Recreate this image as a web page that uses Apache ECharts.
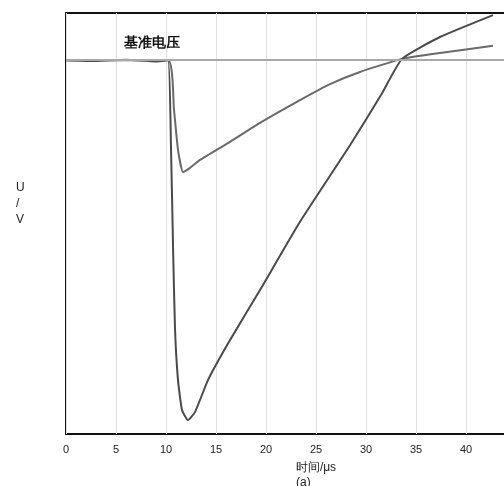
<!DOCTYPE html>
<html>
<head>
<meta charset="utf-8">
<script src="https://cdn.jsdelivr.net/npm/echarts@6/dist/echarts.min.js"></script>
<style>
html,body{margin:0;padding:0;background:#fff;}
#chart{width:504px;height:486px;}
</style>
</head>
<body>
<div id="chart"></div>
<script>
// 时间 (μs) / 电压 (相对值)
var xTicks = [0, 5, 10, 15, 20, 25, 30, 35, 40, 45, 50];
var baseLevel = 88.8;
var refLabel = '基准电压';

// 深曲线
var deepT = [0, 3, 6, 9, 10.2, 10.5, 10.7, 10.9, 11.2, 11.6, 12.2, 12.9, 14.2, 16.4, 19.4, 23.4, 28.4, 31.5, 33.6, 37.4, 42.7];
var deepV = [88.8, 88.6, 88.9, 88.5, 88.8, 68.0, 45.0, 25.0, 12.8, 5.7, 3.3, 5.2, 12.8, 22.3, 34.2, 50.4, 68.6, 80.5, 89.1, 94.3, 99.5];

// 浅曲线
var shallowT = [0, 10.2, 10.8, 11.2, 11.7, 12.4, 13.4, 16.4, 19.4, 23.4, 26.4, 29.4, 33.6, 37.4, 42.7];
var shallowV = [88.8, 88.8, 77.0, 67.5, 62.2, 63.2, 65.1, 69.4, 73.9, 79.3, 83.1, 86.0, 89.1, 90.5, 92.2];

function pairs(t, v) {
    var out = [];
    for (var i = 0; i < t.length; i++) out.push([t[i], v[i]]);
    return out;
}

var option = {
    animation: false,
    backgroundColor: '#fff',
    grid: {
        left: 66, width: 500, top: 13, bottom: 52,
        containLabel: false, outerBoundsMode: 'none',
        show: true, borderColor: '#111', borderWidth: 2, backgroundColor: '#fff'
    },
    xAxis: {
        type: 'value', min: 0, max: 50, interval: 5,
        name: '时间/μs', nameLocation: 'middle', nameGap: 28,
        nameTextStyle: {color: '#222', fontSize: 12},
        axisLine: {show: false},
        axisTick: {show: false},
        axisLabel: {color: '#222', fontSize: 11, margin: 10},
        splitLine: {show: true, lineStyle: {color: '#e2e2e2', width: 1}}
    },
    yAxis: {
        type: 'value', min: 0, max: 100,
        axisLine: {show: false},
        axisTick: {show: false},
        axisLabel: {show: false},
        splitLine: {show: false}
    },
    series: [
        {
            name: 'base', type: 'line', data: [], silent: true,
            markLine: {
                symbol: 'none', silent: true, label: {show: false},
                lineStyle: {color: '#a8a8a8', width: 2, type: 'solid'},
                data: [{yAxis: baseLevel}]
            }
        },
        {
            name: 'shallow', type: 'line', data: pairs(shallowT, shallowV),
            showSymbol: false, smooth: 0.15,
            lineStyle: {color: '#6a6a6a', width: 2}
        },
        {
            name: 'deep', type: 'line', data: pairs(deepT, deepV),
            showSymbol: false, smooth: 0.15,
            lineStyle: {color: '#4a4a4a', width: 2}
        }
    ],
    graphic: [
        {type: 'text', left: 124, top: 36, style: {text: refLabel, fontSize: 14, fill: '#111', fontWeight: 'bold'}},
        {type: 'text', left: 16, top: 180, style: {text: 'U\n/\nV', fontSize: 12, fill: '#222', lineHeight: 16, align: 'center'}},
        {type: 'text', left: 296, top: 477, style: {text: '(a)', fontSize: 12, fill: '#222'}}
    ]
};

var myChart = echarts.init(document.getElementById('chart'), null, {renderer: 'canvas'});
myChart.setOption(option);
</script>
</body>
</html>
